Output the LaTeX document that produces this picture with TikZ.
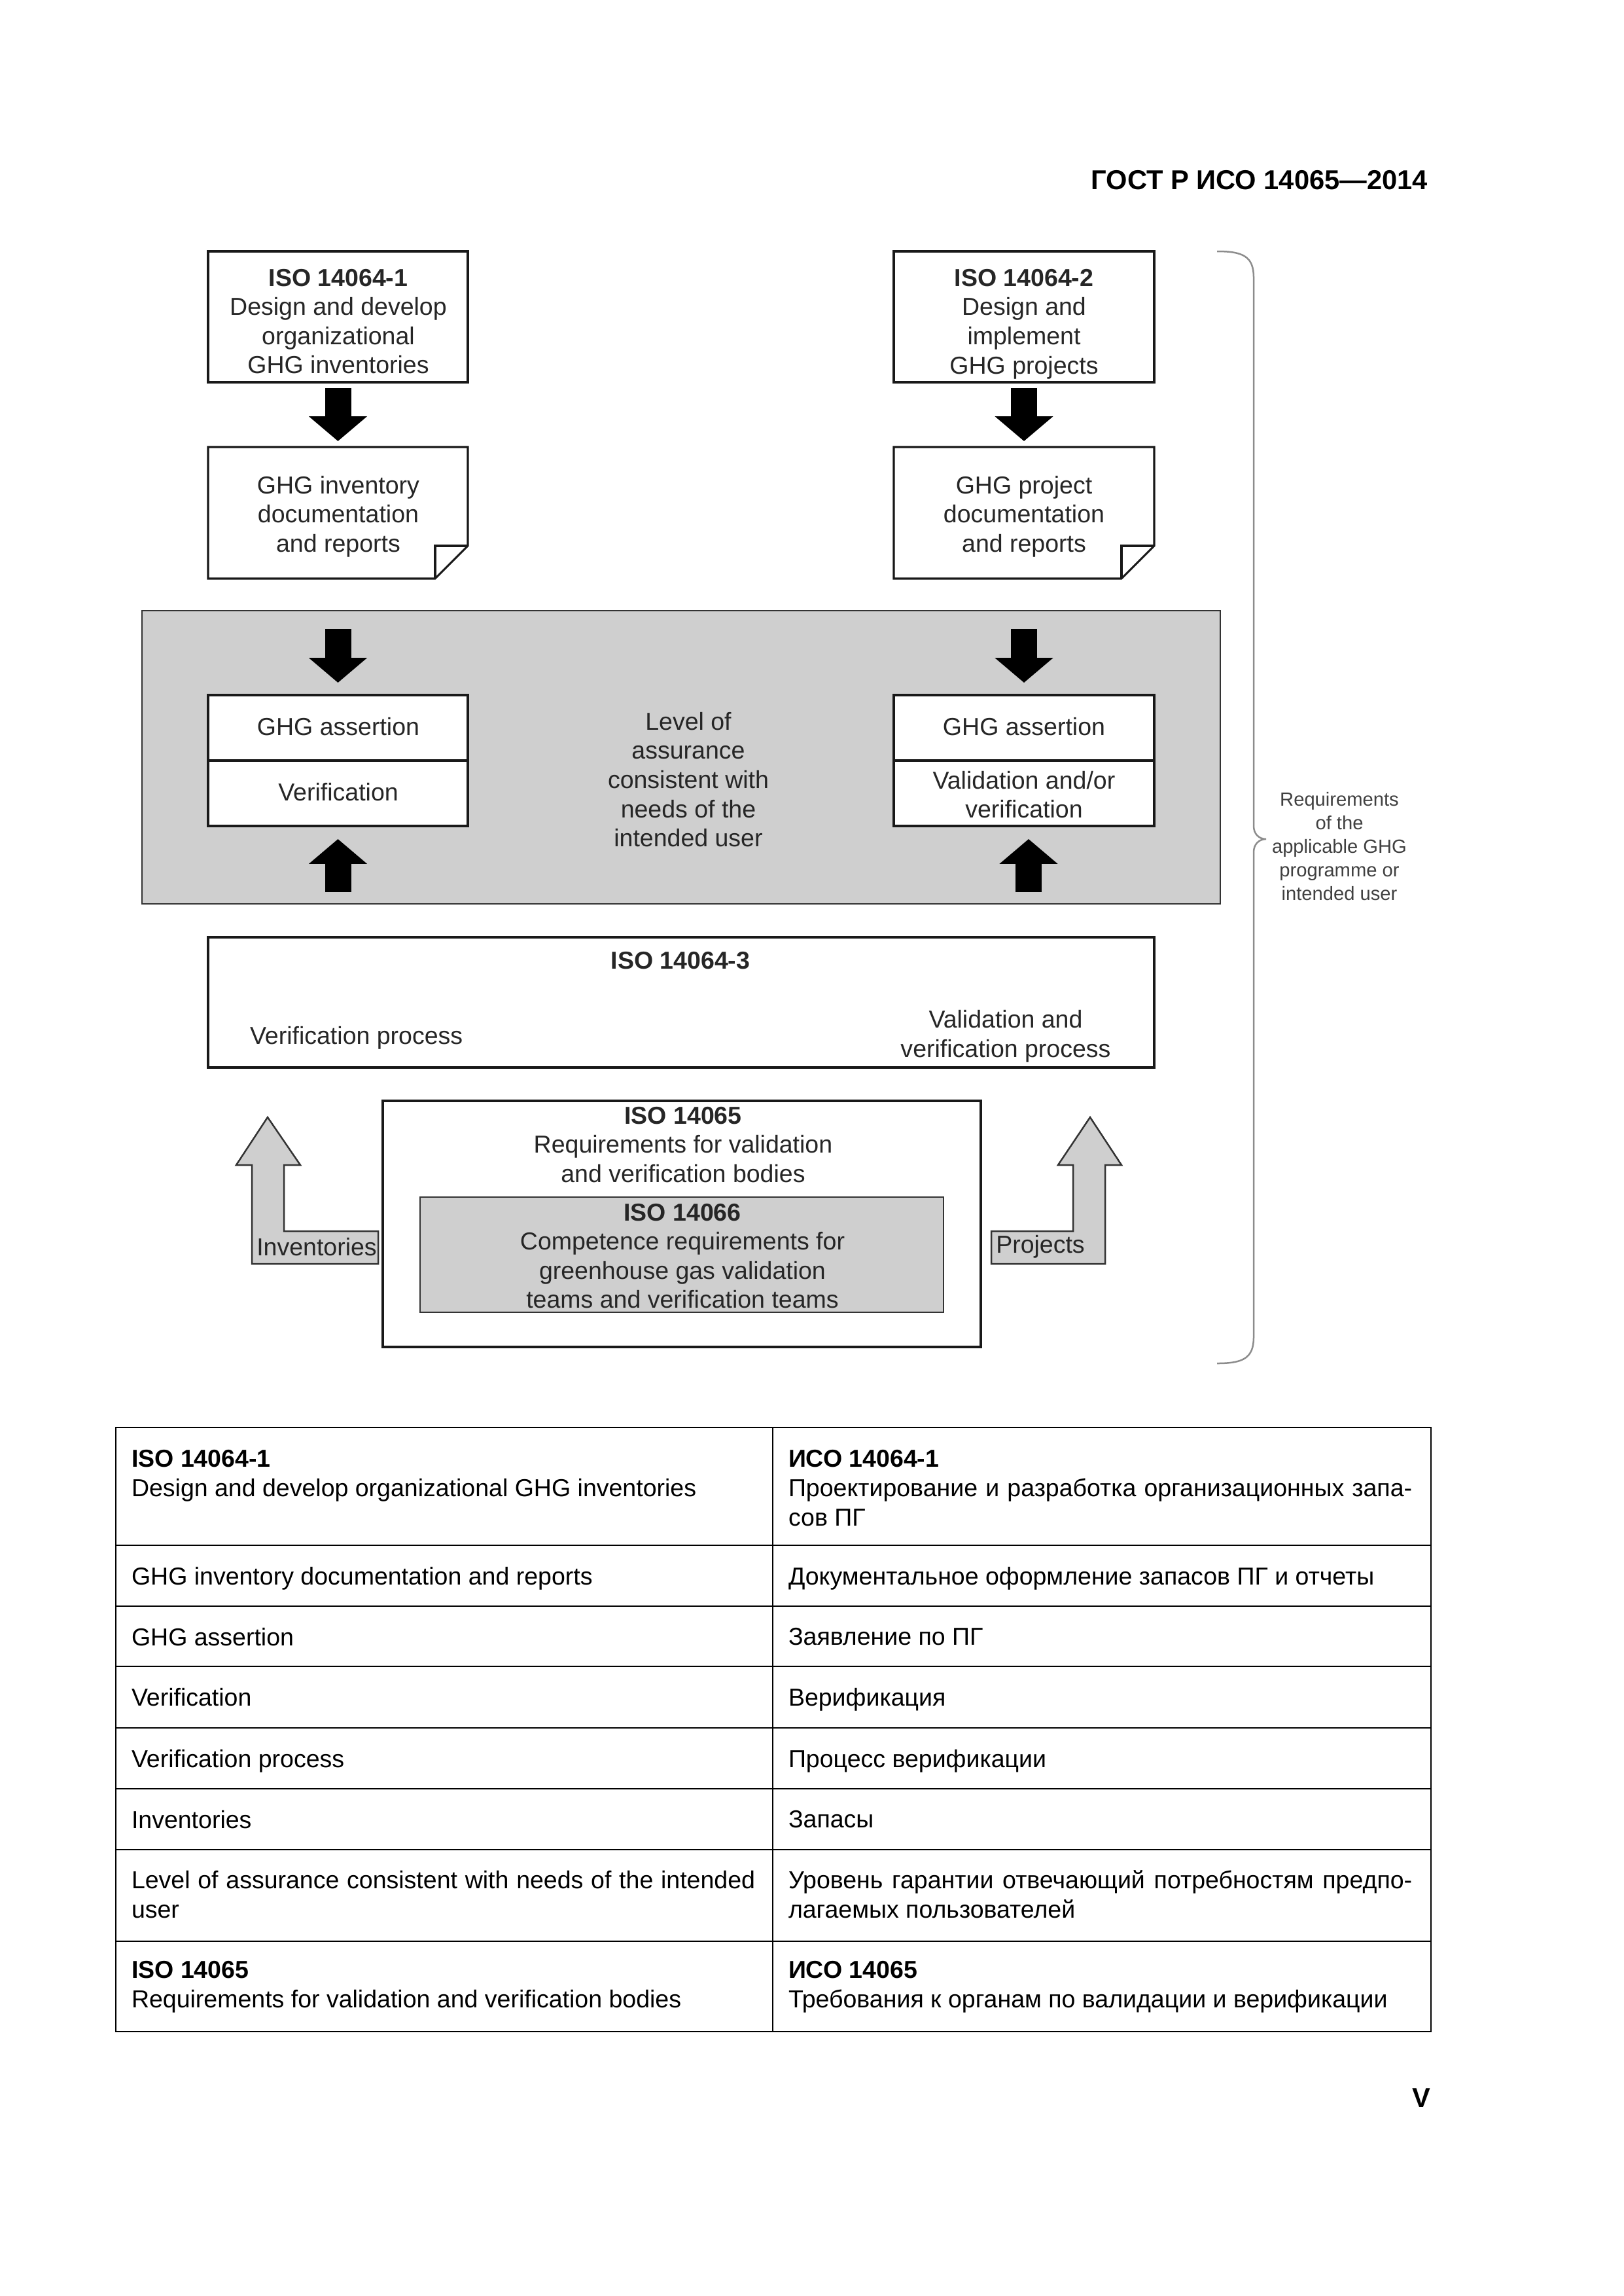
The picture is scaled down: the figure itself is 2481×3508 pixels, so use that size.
\documentclass[tikz,border=0pt]{standalone}
\usepackage{fontspec}
\setmainfont{Liberation Sans}
\usetikzlibrary{fit,calc,arrows.meta}
\begin{document}
\begin{tikzpicture}[x=0.23994pt,y=-0.23994pt,
  every node/.style={inner sep=0pt, outer sep=0pt},
  box/.style={draw=black!90, line width=0.75pt, fill=white},
  boxl/.style={draw=black!90, line width=0.75pt},
  shadebox/.style={fill=black!19, draw=black!80, line width=0.7pt},
  txt/.style={font=\fontsize{9}{10.7}\selectfont, align=center, text=black!85},
  blk/.style={line width=9.6pt, black, -{Triangle[length=9.1pt,width=20.9pt]}},
  blockarrow/.style={fill=black!19, draw=black!80, line width=0.6pt, line join=miter},
  tline/.style={line width=0.65pt, black},
  cell/.style={anchor=north west, text width=228.7pt, align=justify, font=\fontsize{9}{10.8}\selectfont},
]
\useasboundingbox (0,0) rectangle (2481,3508);

% header
\node[anchor=base east, font=\fontsize{10}{12}\selectfont\bfseries] (hdr) at (2182,289) {ГОСТ Р ИСО 14065—2014};

% top boxes
\node[fit={(318,384)(715,584)}, box] (b1) {};
\node[txt] (b1t) at (517,491) {\textbf{ISO 14064-1}\\Design and develop\\organizational\\GHG inventories};
\node[fit={(1366,384)(1764,584)}, box] (b2) {};
\node[txt] (b2t) at (1565,495) {\textbf{ISO 14064-2}\\Design and\\implement\\GHG projects};

% document boxes
\node[fit={(318,683)(715,884)}] (d1) {};
\draw[box] (d1.north west) -- (d1.north east) -- ($(d1.south east)+(0,-50)$) -- ($(d1.south east)+(-50,0)$) -- (d1.south west) -- cycle;
\draw[boxl] ($(d1.south east)+(0,-50)$) -- ($(d1.south east)+(-50,-50)$) -- ($(d1.south east)+(-50,0)$);
\node[txt] (d1t) at (517,789) {GHG inventory\\documentation\\and reports};
\node[fit={(1366,683)(1764,884)}] (d2) {};
\draw[box] (d2.north west) -- (d2.north east) -- ($(d2.south east)+(0,-50)$) -- ($(d2.south east)+(-50,0)$) -- (d2.south west) -- cycle;
\draw[boxl] ($(d2.south east)+(0,-50)$) -- ($(d2.south east)+(-50,-50)$) -- ($(d2.south east)+(-50,0)$);
\node[txt] (d2t) at (1565,789) {GHG project\\documentation\\and reports};

\draw[blk] ($(b1.south)+(0,9)$) -- ($(d1.north)+(0,-9)$);
\draw[blk] ($(b2.south)+(0,9)$) -- ($(d2.north)+(0,-9)$);

% gray band
\node[fit={(217,933)(1865,1381)}, shadebox] (band) {};
\node[fit={(318,1062)(715,1262)}, box] (g1) {};
\draw[boxl] (g1.west) -- (g1.east);
\node[txt] (g1a) at (517,1110) {GHG assertion};
\node[txt] (g1b) at (517,1210) {Verification};
\node[fit={(1366,1062)(1764,1262)}, box] (g2) {};
\draw[boxl] (g2.west) -- (g2.east);
\node[txt] (g2a) at (1565,1110) {GHG assertion};
\node[txt] (g2b) at (1565,1214) {Validation and/or\\verification};
\node[txt] (lvl) at (1052,1191) {Level of\\assurance\\consistent with\\needs of the\\intended user};

% ISO 14064-3
\node[fit={(318,1432)(1764,1631)}, box] (i3) {};
\node[txt, font=\fontsize{9}{10.7}\selectfont\bfseries] (i3t) at (1040,1468) {ISO 14064-3};
\node[txt, anchor=west] (i3a) at (382,1586) {Verification process};
\node[txt] (i3b) at (1537,1583) {Validation and\\verification process};

\draw[blk] ($(i3.north -| g1.south)+(0,-69)$) -- ($(g1.south)+(0,20)$);
\draw[blk] ($(i3.north -| g2.south)+(7,-69)$) -- ($(g2.south)+(7,20)$);
\draw[blk] ($(d1.south)+(0,77)$) -- ($(g1.north)+(0,-19)$);
\draw[blk] ($(d2.south)+(0,77)$) -- ($(g2.north)+(0,-19)$);

% ISO 14065 / 14066
\node[fit={(585,1682)(1499,2058)}, box] (i5) {};
\node[txt] (i5t) at (1044,1749) {\textbf{ISO 14065}\\Requirements for validation\\and verification bodies};
\node[fit={(642,1829)(1442,2005)}, shadebox] (i6) {};
\node[txt] (i6t) at (1043,1919) {\textbf{ISO 14066}\\Competence requirements for\\greenhouse gas validation\\teams and verification teams};

% block arrows
\draw[blockarrow] (385,1931) -- (385,1780) -- (361,1780) -- (409,1707) -- (459,1780) -- (434,1780) -- (434,1881) -- (578,1881) -- (578,1931) -- cycle;
\node[txt] (inv) at (484,1905) {Inventories};
\draw[blockarrow] (1515,1881) -- (1640,1881) -- (1640,1780) -- (1617,1780) -- (1666,1707) -- (1714,1780) -- (1689,1780) -- (1689,1931) -- (1515,1931) -- cycle;
\node[txt] (prj) at (1590,1905) {Projects};

% brace
\draw[black!45, line width=0.6pt] (1860,384) .. controls (1900,384) and (1916,392) .. (1916,424) -- (1916,1262) .. controls (1916,1274) and (1924,1282) .. (1935,1282) .. controls (1924,1282) and (1916,1290) .. (1916,1302) -- (1916,2043) .. controls (1916,2075) and (1900,2083) .. (1860,2083);
\node[txt, font=\fontsize{7}{8.6}\selectfont, text=black!75] (req) at (2047,1293) {Requirements\\of the\\applicable GHG\\programme or\\intended user};

% table
\draw[tline] (177,2181) rectangle (2187,3104);
\draw[tline] (1181,2181) -- (1181,3104);
\foreach \yy in {2361,2454,2546,2640,2733,2826,2966} \draw[tline] (177,\yy) -- (2187,\yy);

\node[cell] (r1l) at (201,2215) {\textbf{ISO 14064-1}\\Design and develop organizational GHG inventories};
\node[cell] (r1r) at (1205,2215) {\textbf{ИСО 14064-1}\\Проектирование и разработка организационных запа-\linebreak сов ПГ};
\node[cell] (r2l) at (201,2394) {GHG inventory documentation and reports};
\node[cell] (r2r) at (1205,2394) {Документальное оформление запасов ПГ и отчеты};
\node[cell] (r3l) at (201,2487) {GHG assertion};
\node[cell] (r3r) at (1205,2487) {Заявление по ПГ};
\node[cell] (r4l) at (201,2579) {Verification};
\node[cell] (r4r) at (1205,2579) {Верификация};
\node[cell] (r5l) at (201,2673) {Verification process};
\node[cell] (r5r) at (1205,2673) {Процесс верификации};
\node[cell] (r6l) at (201,2766) {Inventories};
\node[cell] (r6r) at (1205,2766) {Запасы};
\node[cell] (r7l) at (201,2858) {Level of assurance consistent with needs of the intended\linebreak user};
\node[cell] (r7r) at (1205,2858) {Уровень гарантии отвечающий потребностям предпо-\linebreak лагаемых пользователей};
\node[cell] (r8l) at (201,2996) {\textbf{ISO 14065}\\Requirements for validation and verification bodies};
\node[cell] (r8r) at (1205,2996) {\textbf{ИСО 14065}\\Требования к органам по валидации и верификации};

% page number
\node[anchor=base east, font=\fontsize{10}{12}\selectfont\bfseries] (pg) at (2186,3219) {V};
\end{tikzpicture}
\end{document}
